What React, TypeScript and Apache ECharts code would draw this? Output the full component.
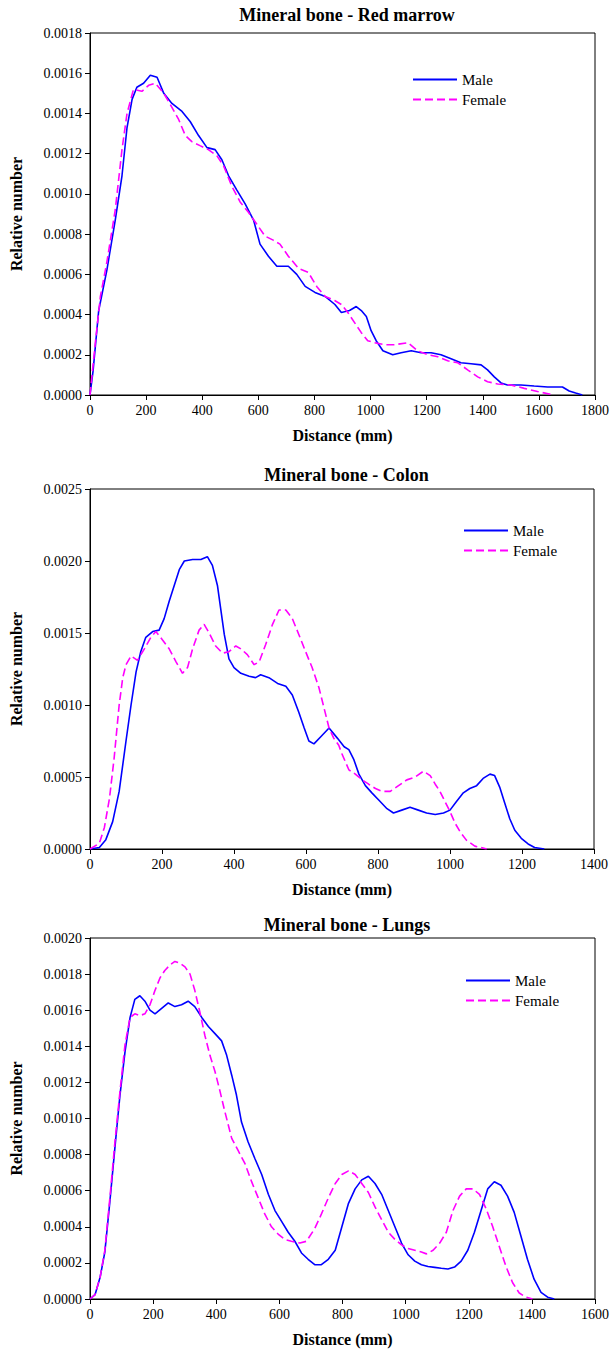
import React, { useEffect, useRef } from "react";
import * as echarts from "echarts";

const chartTitles = ["Mineral bone - Red marrow", "Mineral bone - Colon", "Mineral bone - Lungs"];
const seriesNames = ["Male", "Female"];
const xMax = [1800, 1400, 1600];
const yMax = [0.0018, 0.0025, 0.002];
const yInterval = [0.0002, 0.0005, 0.0002];
const xInterval = 200;

const redMarrowMale: [number, number][] = [
  [0, 0], [11, 0.00012], [31, 0.00042], [60, 0.00062], [90, 0.00087], [114, 0.00109], [132, 0.00133], [150, 0.00147],
  [167, 0.00153], [191, 0.00155], [215, 0.00159], [239, 0.00158], [263, 0.0015], [292, 0.00145], [328, 0.00141],
  [357, 0.00136], [387, 0.00129], [417, 0.00123], [446, 0.00122], [470, 0.00117], [494, 0.00109], [523, 0.00102],
  [553, 0.00095], [583, 0.00087], [606, 0.00075], [636, 0.00069], [666, 0.00064], [707, 0.00064], [737, 0.0006],
  [767, 0.00054], [802, 0.00051], [838, 0.00049], [873, 0.00045], [896, 0.00041], [925, 0.00042], [949, 0.00044],
  [967, 0.00042], [985, 0.00039], [1002, 0.00032], [1020, 0.00027], [1044, 0.00022], [1079, 0.0002], [1109, 0.00021],
  [1145, 0.00022], [1180, 0.00021], [1216, 0.00021], [1251, 0.0002], [1287, 0.00018], [1322, 0.00016], [1358, 0.000155],
  [1394, 0.00015], [1417, 0.000125], [1441, 0.00009], [1465, 0.00006], [1488, 0.00005], [1536, 0.00005], [1583, 0.000045],
  [1631, 0.00004], [1684, 0.00004], [1708, 0.00002], [1731, 0.00001], [1755, 0],
];
const redMarrowFemale: [number, number][] = [
  [0, 0], [19, 0.00026], [37, 0.00049], [60, 0.00066], [90, 0.00092], [114, 0.00122], [132, 0.0014], [155, 0.00152],
  [185, 0.00151], [209, 0.00154], [233, 0.00155], [263, 0.0015], [292, 0.00143], [316, 0.00137], [340, 0.00129],
  [363, 0.00126], [392, 0.00124], [422, 0.00122], [452, 0.00119], [476, 0.00114], [505, 0.00104], [535, 0.00096],
  [564, 0.00091], [594, 0.00085], [624, 0.00079], [653, 0.00077], [677, 0.00075], [707, 0.00069], [743, 0.00063],
  [778, 0.00061], [808, 0.00054], [838, 0.00049], [872, 0.00047], [896, 0.00045], [919, 0.00041], [943, 0.00036],
  [967, 0.00031], [990, 0.00027], [1014, 0.00026], [1050, 0.00025], [1085, 0.00025], [1133, 0.00026], [1168, 0.00022],
  [1204, 0.0002], [1240, 0.00019], [1275, 0.00017], [1311, 0.00016], [1346, 0.000125], [1382, 0.00009], [1417, 0.000066],
  [1453, 0.000055], [1500, 0.00005], [1548, 0.000033], [1595, 0.000017], [1654, 0],
];
const colonMale: [number, number][] = [
  [0, 0], [26, 0.00001], [44, 0.000065], [63, 0.00019], [81, 0.0004], [100, 0.00075], [114, 0.001], [128, 0.00123],
  [141, 0.00137], [155, 0.00147], [174, 0.00151], [192, 0.00152], [206, 0.0016], [220, 0.00172], [234, 0.00183],
  [248, 0.00194], [262, 0.002], [285, 0.00201], [308, 0.00201], [326, 0.00203], [340, 0.00197], [354, 0.00183],
  [363, 0.00167], [373, 0.00149], [386, 0.00132], [400, 0.00126], [419, 0.00122], [442, 0.0012], [460, 0.00119],
  [474, 0.00121], [497, 0.00119], [521, 0.00115], [544, 0.00113], [562, 0.00107], [580, 0.00095], [595, 0.00084],
  [608, 0.00075], [622, 0.00073], [641, 0.00078], [664, 0.00084], [687, 0.00077], [706, 0.00071], [719, 0.00069],
  [733, 0.00062], [747, 0.00052], [765, 0.00044], [783, 0.00039], [802, 0.00034], [825, 0.00028], [843, 0.00025],
  [866, 0.00027], [889, 0.00029], [912, 0.00027], [935, 0.00025], [959, 0.00024], [982, 0.00025], [1000, 0.00027],
  [1018, 0.00033], [1037, 0.00039], [1055, 0.00042], [1074, 0.00044], [1092, 0.00049], [1111, 0.00052], [1124, 0.00051],
  [1138, 0.00043], [1152, 0.00032], [1166, 0.00021], [1180, 0.00013], [1198, 0.000074], [1217, 0.000035], [1235, 0.00001],
  [1262, 0],
];
const colonFemale: [number, number][] = [
  [0, 0], [26, 0.00004], [40, 0.00015], [54, 0.00035], [67, 0.00063], [81, 0.001], [91, 0.00119], [100, 0.00128],
  [114, 0.00134], [132, 0.00131], [151, 0.00139], [169, 0.00147], [183, 0.00151], [202, 0.00145], [220, 0.00139],
  [239, 0.0013], [257, 0.00122], [271, 0.00126], [285, 0.00139], [303, 0.00152], [317, 0.00156], [331, 0.0015],
  [349, 0.00141], [368, 0.00136], [386, 0.00137], [405, 0.00141], [419, 0.00139], [437, 0.00135], [456, 0.00128],
  [470, 0.0013], [488, 0.00142], [507, 0.00156], [525, 0.00166], [544, 0.00166], [562, 0.0016], [580, 0.00149],
  [599, 0.00137], [617, 0.00126], [636, 0.00112], [650, 0.00098], [664, 0.00084], [677, 0.00077], [691, 0.00072],
  [700, 0.00066], [719, 0.00055], [737, 0.00052], [756, 0.00048], [774, 0.00045], [793, 0.00042], [811, 0.0004],
  [834, 0.0004], [857, 0.00044], [880, 0.00048], [903, 0.0005], [926, 0.00054], [945, 0.00051], [959, 0.00045],
  [972, 0.0004], [986, 0.00033], [1000, 0.00026], [1014, 0.00018], [1028, 0.00012], [1046, 0.00006], [1069, 0.00002],
  [1102, 0],
];
const lungsMale: [number, number][] = [
  [0, 0], [16, 0.000024], [32, 0.00012], [47, 0.00026], [63, 0.00054], [79, 0.00084], [95, 0.00113], [111, 0.00137],
  [127, 0.00156], [142, 0.00166], [158, 0.00168], [174, 0.00165], [190, 0.0016], [206, 0.00158], [227, 0.00161],
  [248, 0.00164], [269, 0.00162], [290, 0.00163], [311, 0.00165], [332, 0.00162], [354, 0.00156], [375, 0.00151],
  [396, 0.00147], [417, 0.00143], [433, 0.00135], [449, 0.00124], [464, 0.00113], [480, 0.00098], [501, 0.00087],
  [522, 0.00078], [544, 0.00069], [565, 0.00058], [586, 0.00049], [607, 0.00043], [628, 0.00037], [649, 0.00032],
  [670, 0.000255], [691, 0.00022], [712, 0.00019], [733, 0.00019], [755, 0.00022], [777, 0.00027], [798, 0.0004],
  [819, 0.00053], [840, 0.00061], [861, 0.00066], [882, 0.00068], [903, 0.00064], [924, 0.00058], [945, 0.00049],
  [966, 0.0004], [987, 0.00031], [1008, 0.000245], [1029, 0.00021], [1050, 0.00019], [1071, 0.00018], [1092, 0.000175],
  [1113, 0.00017], [1134, 0.000166], [1155, 0.000177], [1176, 0.00021], [1197, 0.00027], [1218, 0.00037], [1239, 0.00049],
  [1260, 0.00061], [1281, 0.00065], [1302, 0.00063], [1323, 0.00057], [1344, 0.00048], [1365, 0.00035], [1386, 0.00022],
  [1407, 0.00011], [1429, 0.000037], [1450, 0.00001], [1471, 0],
];
const lungsFemale: [number, number][] = [
  [0, 0], [16, 0.000024], [32, 0.00012], [47, 0.00027], [63, 0.00056], [79, 0.00087], [95, 0.00115], [111, 0.00141],
  [127, 0.00156], [142, 0.00158], [158, 0.00157], [174, 0.00158], [190, 0.00163], [206, 0.00171], [222, 0.00178],
  [237, 0.00182], [253, 0.00185], [269, 0.00187], [285, 0.00186], [301, 0.00184], [317, 0.0018], [332, 0.00171],
  [348, 0.00159], [364, 0.00146], [380, 0.00135], [396, 0.00126], [412, 0.00115], [427, 0.00104], [449, 0.00089],
  [470, 0.00082], [491, 0.00075], [512, 0.00065], [533, 0.00056], [554, 0.00047], [575, 0.0004], [596, 0.00036],
  [617, 0.00033], [638, 0.00032], [665, 0.00031], [686, 0.00032], [712, 0.00039], [733, 0.00047], [755, 0.00056],
  [777, 0.00064], [798, 0.00069], [819, 0.00071], [840, 0.00069], [861, 0.00064], [882, 0.00059], [903, 0.00051],
  [924, 0.00044], [945, 0.00037], [966, 0.00033], [987, 0.0003], [1008, 0.00028], [1029, 0.00027], [1050, 0.00026],
  [1066, 0.00025], [1087, 0.00027], [1108, 0.00031], [1129, 0.00037], [1150, 0.00049], [1171, 0.00057], [1192, 0.00061],
  [1213, 0.00061], [1234, 0.00058], [1255, 0.0005], [1276, 0.0004], [1297, 0.00029], [1318, 0.00018], [1339, 0.00009],
  [1360, 0.000033], [1381, 0.00001], [1402, 0],
];

const panelData = [
  [redMarrowMale, redMarrowFemale],
  [colonMale, colonFemale],
  [lungsMale, lungsFemale],
];

const FONT = "Liberation Serif";

export default function App() {
  const ref = useRef<HTMLDivElement>(null);
  useEffect(() => {
    if (!ref.current) return;
    const chart = echarts.init(ref.current, undefined, { renderer: "svg" });
    const grids = [
      { left: 89, top: 33, width: 506, height: 362 },
      { left: 89, top: 489, width: 505, height: 360 },
      { left: 89, top: 938, width: 506, height: 361 },
    ];
    const titleTops = [1, 461, 911];
    const legendPos = [
      { left: 407, top: 67 },
      { left: 458, top: 518 },
      { left: 460, top: 968 },
    ];
    const colors = ["#0000ff", "#ff00ff"];
    const option: any = {
      animation: false,
      backgroundColor: "#fff",
      title: chartTitles.map((t, i) => ({
        text: t,
        left: grids[i].left + grids[i].width / 2,
        top: titleTops[i],
        textAlign: "center",
        textStyle: { fontFamily: FONT, fontSize: 18, fontWeight: "bold", color: "#000" },
      })),
      legend: legendPos.map((p) => ({
        orient: "vertical",
        left: p.left,
        top: p.top,
        data: seriesNames,
        itemWidth: 44,
        itemHeight: 14,
        itemGap: 5,
        selectedMode: false,
        itemStyle: { opacity: 0 },
        textStyle: { fontFamily: FONT, fontSize: 15, color: "#000" },
      })),
      grid: grids.map((g) => ({ ...g, show: true, borderColor: "#000", borderWidth: 1, backgroundColor: "transparent" })),
      xAxis: grids.map((_, i) => ({
        type: "value",
        gridIndex: i,
        min: 0,
        max: xMax[i],
        interval: xInterval,
        name: "Distance (mm)",
        nameLocation: "middle",
        nameGap: 32,
        nameTextStyle: { fontFamily: FONT, fontSize: 16, fontWeight: "bold", color: "#000" },
        axisLine: { show: true, lineStyle: { color: "#000", width: 1 } },
        axisTick: { show: true, inside: false, length: 5, lineStyle: { color: "#000" } },
        axisLabel: { fontFamily: FONT, fontSize: 14, color: "#000", margin: 8, formatter: (v: number) => String(v) },
        splitLine: { show: false },
      })),
      yAxis: grids.map((_, i) => ({
        type: "value",
        gridIndex: i,
        min: 0,
        max: yMax[i],
        interval: yInterval[i],
        name: "Relative number",
        nameLocation: "middle",
        nameGap: 66,
        nameTextStyle: { fontFamily: FONT, fontSize: 16, fontWeight: "bold", color: "#000" },
        axisLine: { show: true, lineStyle: { color: "#000", width: 1 } },
        axisTick: { show: true, inside: false, length: 5, lineStyle: { color: "#000" } },
        axisLabel: {
          fontFamily: FONT,
          fontSize: 14,
          color: "#000",
          margin: 8,
          formatter: (v: number) => v.toFixed(4),
        },
        splitLine: { show: false },
      })),
      series: panelData.flatMap((pair, i) =>
        pair.map((d, j) => ({
          type: "line",
          name: seriesNames[j],
          xAxisIndex: i,
          yAxisIndex: i,
          data: d,
          showSymbol: false,
          symbol: "none",
          smooth: false,
          color: colors[j],
          lineStyle: { color: colors[j], width: 1.6, type: j === 1 ? [8, 4] : "solid" },
          z: j === 0 ? 2 : 3,
        }))
      ),
    };
    chart.setOption(option);
    return () => chart.dispose();
  }, []);
  return (
    <div
      ref={ref}
      style={{ position: "absolute", left: 0, top: 0, width: 612, height: 1351, background: "#fff" }}
    />
  );
}
